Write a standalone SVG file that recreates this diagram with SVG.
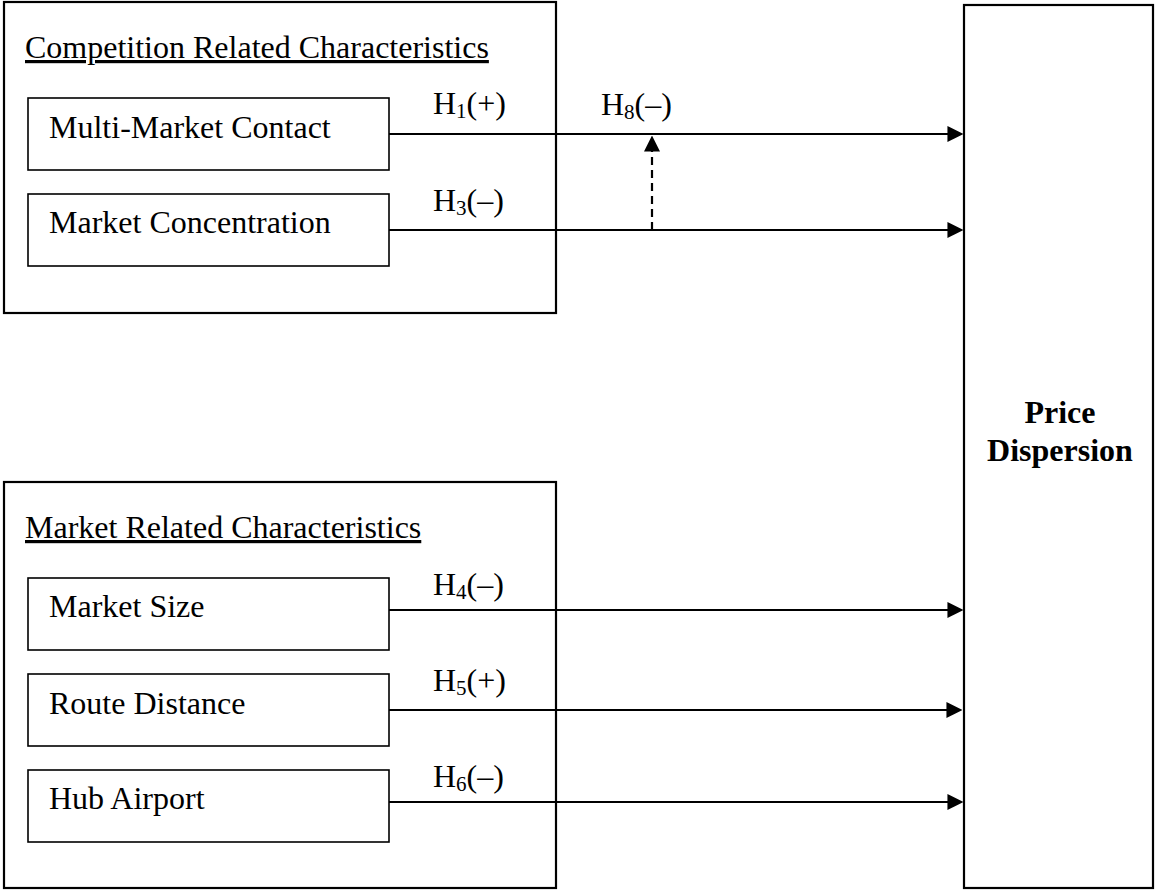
<svg xmlns="http://www.w3.org/2000/svg" width="1156" height="892" viewBox="0 0 1156 892">
  <style>
    .outer { fill: #ffffff; stroke: #000000; stroke-width: 2.2; }
    .inner { fill: #ffffff; stroke: #000000; stroke-width: 1.6; }
    .txt { font-family: "Liberation Serif", "Times New Roman", serif; font-size: 32px; fill: #000000; }
    .title { text-decoration: underline; }
    .bold { font-weight: bold; }
    .sub { font-size: 21px; }
    .conn { stroke: #000000; stroke-width: 2.2; fill: none; }
    .dash { stroke-dasharray: 8 5; }
  </style>
  <defs>
    <marker id="arrow" markerUnits="userSpaceOnUse" markerWidth="16" markerHeight="16" viewBox="0 0 15 15" refX="8" refY="7.5" orient="auto">
      <path d="M0,0 L15,7.5 L0,15 Z" fill="#000000"/>
    </marker>
  </defs>

  <rect width="1156" height="892" fill="#ffffff"/>

  <g id="competition-group">
    <rect class="outer" x="4" y="2" width="552" height="311"/>
    <text class="txt title" x="25" y="58">Competition Related Characteristics</text>
  </g>

  <g id="market-group">
    <rect class="outer" x="4" y="482" width="552" height="406"/>
    <text class="txt title" x="25" y="538">Market Related Characteristics</text>
  </g>

  <g id="multi-market-contact">
    <rect class="inner" x="28" y="98" width="361" height="72"/>
    <text class="txt" x="49" y="138">Multi-Market Contact</text>
  </g>

  <g id="market-concentration">
    <rect class="inner" x="28" y="194" width="361" height="72"/>
    <text class="txt" x="49" y="233">Market Concentration</text>
  </g>

  <g id="market-size">
    <rect class="inner" x="28" y="578" width="361" height="72"/>
    <text class="txt" x="49" y="617">Market Size</text>
  </g>

  <g id="route-distance">
    <rect class="inner" x="28" y="674" width="361" height="72"/>
    <text class="txt" x="49" y="714">Route Distance</text>
  </g>

  <g id="hub-airport">
    <rect class="inner" x="28" y="770" width="361" height="72"/>
    <text class="txt" x="49" y="809">Hub Airport</text>
  </g>

  <g id="price-dispersion">
    <rect class="outer" x="964" y="5" width="189" height="883"/>
    <text class="txt bold" x="1060" y="423" text-anchor="middle">Price</text>
    <text class="txt bold" x="1060" y="461" text-anchor="middle">Dispersion</text>
  </g>

  <g id="connectors">
    <line class="conn" x1="389" y1="134" x2="956" y2="134" marker-end="url(#arrow)"/>
    <line class="conn" x1="389" y1="230" x2="956" y2="230" marker-end="url(#arrow)"/>
    <line class="conn dash" x1="652" y1="230" x2="652" y2="143" marker-end="url(#arrow)"/>
    <line class="conn" x1="389" y1="610" x2="956" y2="610" marker-end="url(#arrow)"/>
    <line class="conn" x1="389" y1="710" x2="955" y2="710" marker-end="url(#arrow)"/>
    <line class="conn" x1="389" y1="802" x2="956" y2="802" marker-end="url(#arrow)"/>
  </g>

  <g id="labels">
    <text class="txt" x="433" y="114">H<tspan class="sub" dy="4">1</tspan><tspan dy="-4">(+)</tspan></text>
    <text class="txt" x="601" y="115">H<tspan class="sub" dy="4">8</tspan><tspan dy="-4">(–)</tspan></text>
    <text class="txt" x="433" y="211">H<tspan class="sub" dy="4">3</tspan><tspan dy="-4">(–)</tspan></text>
    <text class="txt" x="433" y="595">H<tspan class="sub" dy="4">4</tspan><tspan dy="-4">(–)</tspan></text>
    <text class="txt" x="433" y="691">H<tspan class="sub" dy="4">5</tspan><tspan dy="-4">(+)</tspan></text>
    <text class="txt" x="433" y="787">H<tspan class="sub" dy="4">6</tspan><tspan dy="-4">(–)</tspan></text>
  </g>
</svg>
